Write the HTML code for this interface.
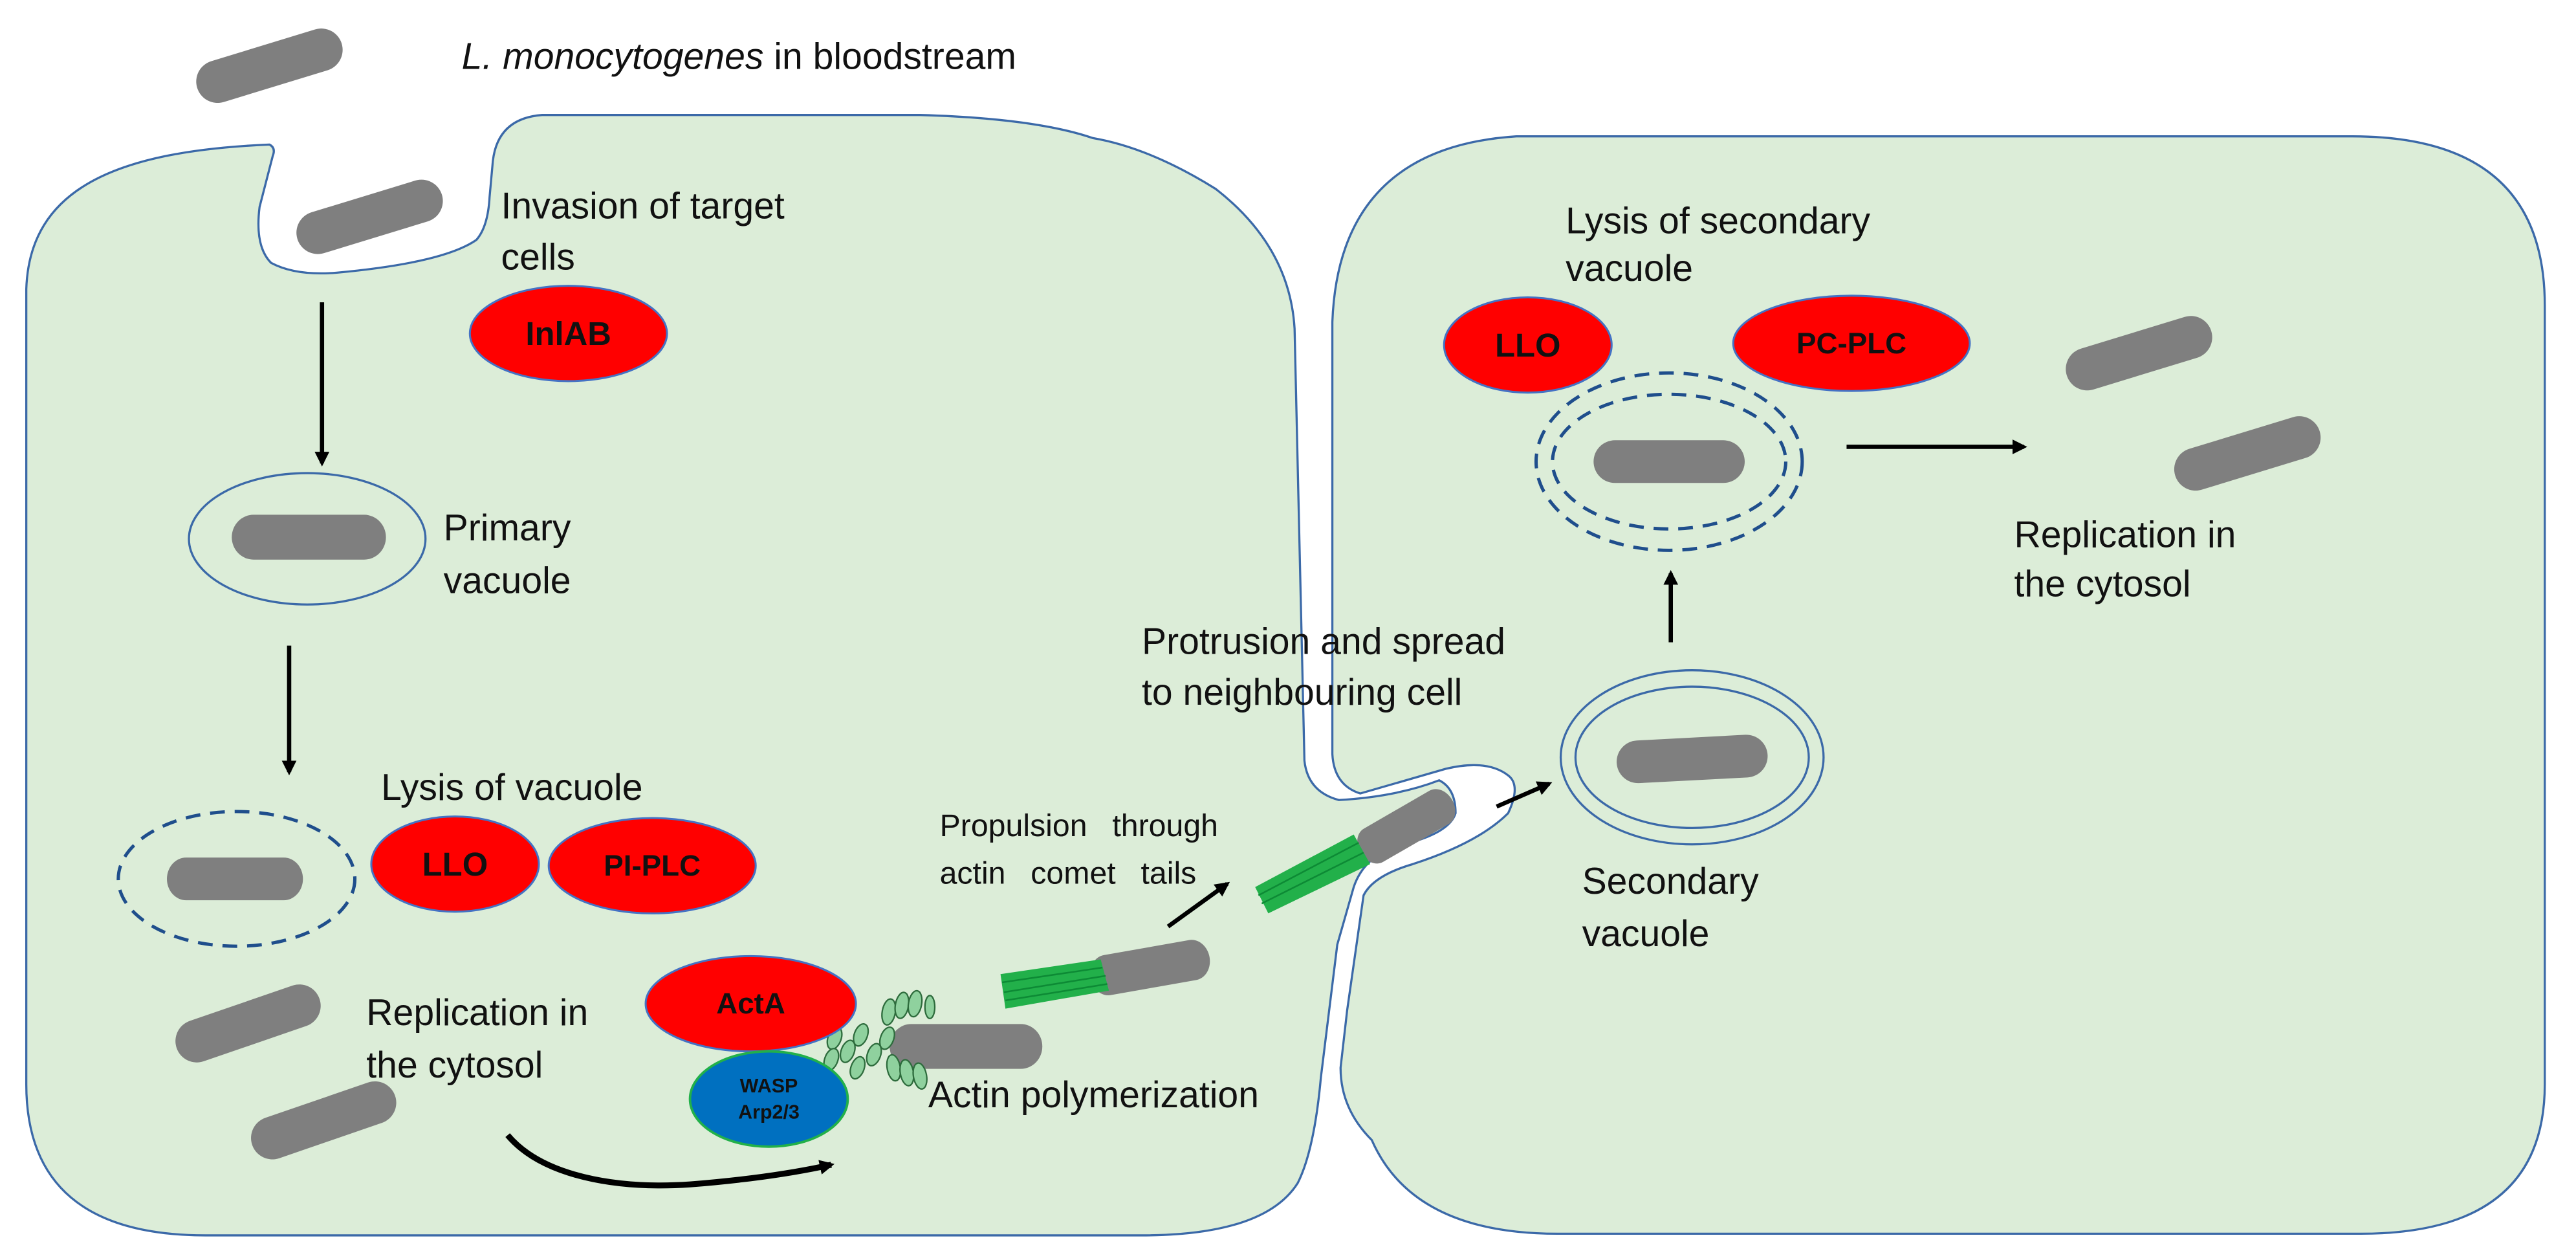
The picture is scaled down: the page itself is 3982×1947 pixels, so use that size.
<!DOCTYPE html>
<html><head><meta charset="utf-8"><style>
html,body{margin:0;padding:0;background:#fff;width:3982px;height:1947px;overflow:hidden}
svg{display:block}
text{font-family:"Liberation Sans",Arial,sans-serif;fill:#111}
.t{font-size:22.5px}
.b{font-weight:bold;text-anchor:middle}
</style></head><body>
<svg width="3982" height="1947" viewBox="0 0 1568 767" preserveAspectRatio="none" xmlns="http://www.w3.org/2000/svg">
<defs>
<marker id="ah" markerWidth="9" markerHeight="9" refX="7" refY="4.5" orient="auto" markerUnits="userSpaceOnUse">
<path d="M0,0 L9,4.5 L0,9 Z" fill="#000"/></marker>
<g id="bac"><rect x="-46" y="-13" width="92" height="26" rx="13" fill="#7f7f7f"/></g>
</defs>
<path d="M923 83 L1432 83 Q1549 83 1549 186 L1549 660 Q1549 751 1437 751 L948 751 Q860 751 835 694 Q816 675 816 650 L820 615 L830 545 Q836 533 860 526 Q900 513 918 495 Q926 478 918 472 Q905 462 880 468 Q845 478 828 483 Q812 478 811 459 L811 196 Q815 90 923 83 Z" fill="#dcedd8" stroke="#3b69a8" stroke-width="1.3"/>
<path d="M16 660 L16 176 C18 115 70 92 164 88 Q168 90 166 95 L158 126 Q155 150 165 160 Q180 168 205 166 Q270 160 290 146 Q297 138 298 120 L300 98 Q303 72 330 70 L560 70 Q630 72 665 84 Q700 90 740 115 Q785 150 788 200 L794 463 Q796 482 815 487 Q850 485 876 475 Q886 480 886 495 Q882 508 850 515 Q830 522 824 540 L814 575 L804 656 Q800 700 790 720 Q770 752 695 752 L125 752 Q16 752 16 660 Z" fill="#dcedd8" stroke="#3b69a8" stroke-width="1.3"/>
<use href="#bac" transform="translate(164,40) rotate(-17)"/>
<use href="#bac" transform="translate(225,132) rotate(-17)"/>
<ellipse cx="187" cy="328" rx="72" ry="40" fill="none" stroke="#3b69a8" stroke-width="1.3"/>
<use href="#bac" transform="translate(188,327) scale(1.02,1.05)"/>
<ellipse cx="144" cy="535" rx="72" ry="41" fill="none" stroke="#1f4e8c" stroke-width="2" stroke-dasharray="9,6"/>
<use href="#bac" transform="translate(143,535) scale(0.9,1)"/>
<use href="#bac" transform="translate(151,623) rotate(-19)"/>
<use href="#bac" transform="translate(197,682) rotate(-19)"/>
<use href="#bac" transform="translate(588,637) scale(1.01,1.05)"/>
<use href="#bac" transform="translate(700,589) rotate(-10) scale(0.8,0.95)"/>
<path d="M609 593 L670 584 L675 603 L612 614 Z" fill="#22b04a"/>
<path d="M610 598 L671 589 M611 604 L673 594 M612 609 L674 599" stroke="#0d8a35" stroke-width="1"/>
<use href="#bac" transform="translate(856,503) rotate(-30) scale(0.7,0.9)"/>
<path d="M764 540 L824 508 L834 526 L772 556 Z" fill="#22b04a"/>
<path d="M766 545 L827 513 M768 550 L830 519" stroke="#0d8a35" stroke-width="1"/>
<ellipse cx="1030" cy="461" rx="80" ry="53" fill="none" stroke="#3b69a8" stroke-width="1.3"/>
<ellipse cx="1030" cy="461" rx="71" ry="43" fill="none" stroke="#3b69a8" stroke-width="1.3"/>
<use href="#bac" transform="translate(1030,462) rotate(-3)"/>
<ellipse cx="1016" cy="281" rx="81" ry="54" fill="none" stroke="#1f4e8c" stroke-width="2" stroke-dasharray="9,6"/>
<ellipse cx="1016" cy="281" rx="71" ry="41" fill="none" stroke="#1f4e8c" stroke-width="2" stroke-dasharray="9,6"/>
<use href="#bac" transform="translate(1016,281)"/>
<use href="#bac" transform="translate(1302,215) rotate(-17)"/>
<use href="#bac" transform="translate(1368,276) rotate(-17)"/>
<g fill="#8fd19e" stroke="#2d6b3c" stroke-width="0.9">
<ellipse cx="508" cy="632" rx="4" ry="7" transform="rotate(20 508 632)"/>
<ellipse cx="516" cy="640" rx="4" ry="7" transform="rotate(20 516 640)"/>
<ellipse cx="524" cy="630" rx="4" ry="7" transform="rotate(20 524 630)"/>
<ellipse cx="532" cy="642" rx="4" ry="7" transform="rotate(20 532 642)"/>
<ellipse cx="540" cy="632" rx="4" ry="7" transform="rotate(20 540 632)"/>
<ellipse cx="541" cy="616" rx="4" ry="8" transform="rotate(10 541 616)"/>
<ellipse cx="549" cy="612" rx="4" ry="8" transform="rotate(10 549 612)"/>
<ellipse cx="557" cy="611" rx="4" ry="8" transform="rotate(10 557 611)"/>
<ellipse cx="566" cy="613" rx="3" ry="7"/>
<ellipse cx="544" cy="650" rx="4" ry="8" transform="rotate(-10 544 650)"/>
<ellipse cx="552" cy="653" rx="4" ry="8" transform="rotate(-10 552 653)"/>
<ellipse cx="560" cy="655" rx="4" ry="8" transform="rotate(-10 560 655)"/>
<ellipse cx="522" cy="650" rx="4" ry="7" transform="rotate(20 522 650)"/>
<ellipse cx="506" cy="645" rx="4" ry="7" transform="rotate(20 506 645)"/>
</g>
<g stroke="#000" stroke-width="2.6" fill="none" marker-end="url(#ah)">
<line x1="196" y1="184" x2="196" y2="282"/>
<line x1="176" y1="393" x2="176" y2="470"/>
<line x1="1124" y1="272" x2="1232" y2="272"/>
<line x1="1017" y1="391" x2="1017" y2="349"/>
<line x1="911" y1="491" x2="943" y2="477"/>
<line x1="711" y1="564" x2="747" y2="538"/>
<path d="M309 691 C330 716 375 724 420 721 Q470 717 506 709" stroke-width="3.6"/>
</g>
<g stroke="#4472c4" stroke-width="1.2" fill="#ff0000">
<ellipse cx="346" cy="203" rx="60" ry="29"/>
<ellipse cx="277" cy="526" rx="51" ry="29"/>
<ellipse cx="397" cy="527" rx="63" ry="29"/>
<ellipse cx="457" cy="611" rx="64" ry="29"/>
<ellipse cx="930" cy="210" rx="51" ry="29"/>
<ellipse cx="1127" cy="209" rx="72" ry="29"/>
</g>
<ellipse cx="468" cy="669" rx="48" ry="29" fill="#0070c0" stroke="#22b04a" stroke-width="1.5"/>
<text class="b" x="346" y="210" style="font-size:20px">InlAB</text>
<text class="b" x="277" y="533" style="font-size:20px">LLO</text>
<text class="b" x="397" y="533" style="font-size:18px">PI-PLC</text>
<text class="b" x="457" y="617" style="font-size:18px">ActA</text>
<text class="b" x="468" y="665" style="font-size:12px">WASP</text>
<text class="b" x="468" y="681" style="font-size:12px">Arp2/3</text>
<text class="b" x="930" y="217" style="font-size:20px">LLO</text>
<text class="b" x="1127" y="215" style="font-size:18px">PC-PLC</text>
<text class="t" x="281" y="42"><tspan font-style="italic">L. monocytogenes</tspan> in bloodstream</text>
<text class="t" x="305" y="133">Invasion of target</text>
<text class="t" x="305" y="164">cells</text>
<text class="t" x="270" y="329">Primary</text>
<text class="t" x="270" y="361">vacuole</text>
<text class="t" x="232" y="487">Lysis of vacuole</text>
<text class="t" x="223" y="624">Replication in</text>
<text class="t" x="223" y="656">the cytosol</text>
<text x="572" y="509" style="font-size:19px;word-spacing:10px">Propulsion through</text>
<text x="572" y="538" style="font-size:19px;word-spacing:10px">actin comet tails</text>
<text class="t" x="565" y="674">Actin polymerization</text>
<text class="t" x="695" y="398">Protrusion and spread</text>
<text class="t" x="695" y="429">to neighbouring cell</text>
<text class="t" x="953" y="142">Lysis of secondary</text>
<text class="t" x="953" y="171">vacuole</text>
<text class="t" x="1226" y="333">Replication in</text>
<text class="t" x="1226" y="363">the cytosol</text>
<text class="t" x="963" y="544">Secondary</text>
<text class="t" x="963" y="576">vacuole</text>
</svg>
</body></html>
